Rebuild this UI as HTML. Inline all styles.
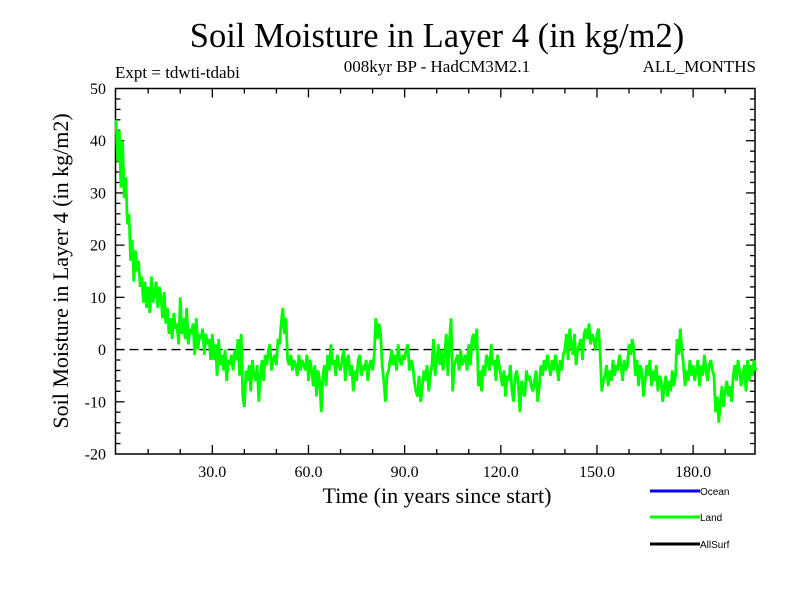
<!DOCTYPE html>
<html><head><meta charset="utf-8"><style>
html,body{margin:0;padding:0;background:#fff;}
svg{display:block;}
.serif{font-family:"Liberation Serif",serif;}
.sans{font-family:"Liberation Sans",sans-serif;}
</style></head><body>
<svg id="chart" width="800" height="600" viewBox="0 0 800 600">
<text class="serif" x="437" y="47" font-size="34.5" text-anchor="middle">Soil Moisture in Layer 4 (in kg/m2)</text>
<text class="serif" x="115" y="78" font-size="17">Expt = tdwti-tdabi</text>
<text class="serif" x="437" y="72" font-size="17" text-anchor="middle">008kyr BP - HadCM3M2.1</text>
<text class="serif" x="756" y="72" font-size="17" text-anchor="end">ALL_MONTHS</text>
<text class="serif" x="437" y="503" font-size="22" text-anchor="middle">Time (in years since start)</text>
<text class="serif" transform="translate(68,271) rotate(-90)" font-size="22" text-anchor="middle">Soil Moisture in Layer 4 (in kg/m2)</text>
<g id="axes"></g>
<g id="series"></g>
<g id="legend">
<line x1="650" y1="491" x2="700" y2="491" stroke="#0000ff" stroke-width="3"/>
<text class="sans" x="700" y="495" font-size="10">Ocean</text>
<line x1="650" y1="517" x2="700" y2="517" stroke="#00ff00" stroke-width="3"/>
<text class="sans" x="700" y="521" font-size="10">Land</text>
<line x1="650" y1="544" x2="700" y2="544" stroke="#000" stroke-width="3"/>
<text class="sans" x="700" y="548" font-size="10">AllSurf</text>
</g>
</svg>
<script>
const xTicks = [30, 60, 90, 120, 150, 180];
const xTickLabels = ["30.0","60.0","90.0","120.0","150.0","180.0"];
const yTicks = [-20,-10,0,10,20,30,40,50];
const yTickLabels = ["-20","-10","0","10","20","30","40","50"];
const timeStep = 0.5;
const landValues = [
44,36,42,31,40,29,33,24,26,17,21,13,19,15,17,12,14,9,13,8,
12,7,14,9,11,13,8,12,10,6,11,5,8,3,6,2,7,4,5,1,
10,3,6,2,8,1,4,3,5,-1,6,0,3,2,4,-1,3,1,2,-2,
3,-2,1,-5,2,-3,-1,-4,0,-6,-2,-3,-1,-4,0,-2,2,-5,3,-9,
-11,-4,-6,-3,-8,-2,-5,-6,-3,-10,-5,-2,-6,-1,-3,0,1,-4,-2,-1,
-3,2,1,5,8,3,6,-2,-3,-1,-4,-2,-3,-5,-1,-4,-2,-3,-4,-1,
-6,-2,-4,-7,-3,-9,-4,-6,-12,-5,-3,-7,-1,-4,1,-3,-2,-5,-1,-3,
-4,-2,0,-6,-2,-1,-5,-3,-8,-4,-6,-2,-1,-5,-3,-4,-2,-6,-3,-2,
-4,-1,6,2,5,3,-3,-6,-10,-5,-4,-2,0,-3,-1,-4,1,-2,-3,-1,
-2,0,1,-4,-2,-3,-6,-8,-9,-5,-10,-7,-4,-6,-3,-8,-5,-3,2,-5,
-2,1,-3,0,-4,-1,3,-5,2,6,-8,-3,-2,-1,-4,0,-3,-2,-1,-4,
1,-3,2,3,0,4,-7,-4,-8,-3,-5,-1,-2,-4,1,-3,-2,-6,-1,-3,
-5,-7,-4,-9,-5,-6,-3,-8,-10,-5,-4,-7,-12,-6,-8,-9,-4,-6,-5,-7,
-8,-6,-4,-10,-7,-3,-5,-2,-4,-1,-3,-5,-2,-4,-1,-3,-6,-2,-4,-1,
0,3,-2,4,1,-1,3,-3,0,1,2,-2,3,4,2,5,1,3,2,0,
3,4,-1,-8,-6,-5,-3,-7,-4,-6,-2,-5,-3,-4,-1,-3,-6,-2,-4,-3,
1,-1,2,0,-5,-2,-7,-3,-4,-9,-6,-3,-5,-2,-7,-4,-6,-3,-8,-5,
-6,-10,-7,-5,-9,-6,-8,-4,-7,-5,2,-1,4,0,-3,-7,-4,-6,-2,-5,
-3,-6,-4,-2,-7,-3,-5,-1,-4,-6,-3,-2,-4,-5,-12,-9,-14,-10,-7,-11,
-8,-6,-9,-7,-10,-5,-3,-6,-2,-4,-7,-5,-3,-8,-2,-6,-3,-5,-2,-4
];

const NS = "http://www.w3.org/2000/svg";
const L = 115.5, R = 755, T = 88.5, B = 454;
const xMin = -0.2, xMax = 199.3, yMin = -20, yMax = 50;
function xs(v){ return L + (v - xMin) / (xMax - xMin) * (R - L); }
function ys(v){ return B - (v - yMin) / (yMax - yMin) * (B - T); }
function mk(tag, attrs, parent){
  const e = document.createElementNS(NS, tag);
  for (const k in attrs) e.setAttribute(k, attrs[k]);
  parent.appendChild(e); return e;
}
const axes = document.getElementById('axes');
const series = document.getElementById('series');

const zl = mk('line', {x1:L, x2:R, y1:ys(0), y2:ys(0), stroke:'#000', 'stroke-width':1.3, 'stroke-dasharray':'9,5'}, axes);



let d = '';
landValues.forEach((v, i) => { d += (i ? 'L' : 'M') + xs(i * timeStep).toFixed(1) + ',' + ys(v).toFixed(1); });
const ln = mk('path', {d:d, fill:'none', stroke:'#00ff00', 'stroke-width':2.8, 'stroke-linejoin':'miter'}, series);



const fr = mk('rect', {x:L, y:T, width:R-L, height:B-T, fill:'none', stroke:'#000', 'stroke-width':1.5}, axes);



for (let t = 10; t < xMax; t += 10) {
  const major = xTicks.includes(t);
  const len = major ? 9 : 5;
  const x = xs(t);
  const a = mk('line', {x1:x, x2:x, y1:B, y2:B-len, stroke:'#000', 'stroke-width':1.3}, axes);
  
  
  const b = mk('line', {x1:x, x2:x, y1:T, y2:T+len, stroke:'#000', 'stroke-width':1.3}, axes);
  
  
}
xTicks.forEach((t, i) => {
  const tx = mk('text', {x:xs(t), y:477, 'font-size':16, 'text-anchor':'middle', class:'serif'}, axes);
  tx.textContent = xTickLabels[i];
  
  
});
for (let v = yMin + 2; v < yMax; v += 2) {
  const major = v % 10 === 0;
  const len = major ? 9 : 5;
  const y = ys(v);
  const a = mk('line', {x1:L, x2:L+len, y1:y, y2:y, stroke:'#000', 'stroke-width':1.3}, axes);
  
  
  const b = mk('line', {x1:R, x2:R-len, y1:y, y2:y, stroke:'#000', 'stroke-width':1.3}, axes);
  
  
}
yTicks.forEach((v, i) => {
  const tx = mk('text', {x:106, y:ys(v)+5.5, 'font-size':16, 'text-anchor':'end', class:'serif'}, axes);
  tx.textContent = yTickLabels[i];
  
  
});
</script>
</body></html>
